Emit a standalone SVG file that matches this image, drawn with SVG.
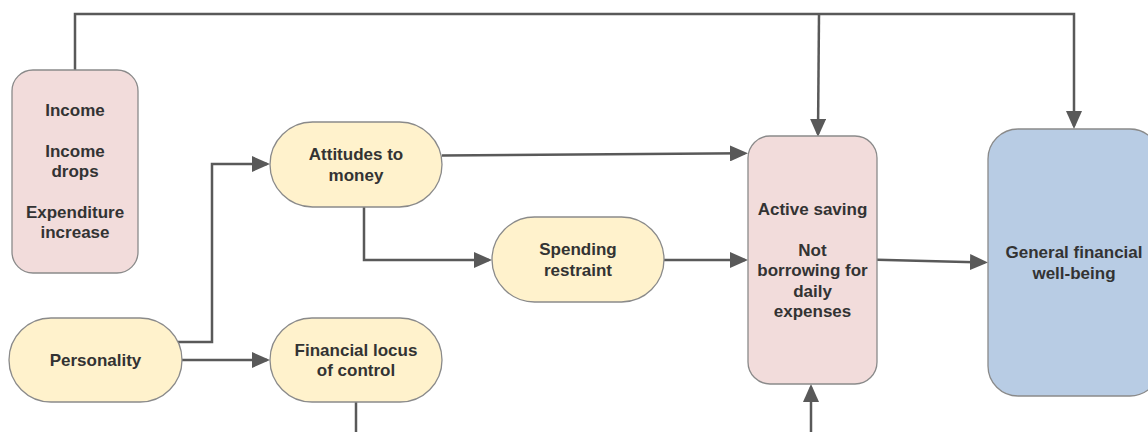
<svg xmlns="http://www.w3.org/2000/svg" width="1148" height="432" viewBox="0 0 1148 432">
<style>
.node{stroke:#8a8a8a;stroke-width:1.3}
.pink{fill:#f2dcdb}
.yellow{fill:#fff2cc}
.blue{fill:#b8cce4}
text{font-family:"Liberation Sans",Arial,sans-serif;font-weight:bold;font-size:17px;fill:#333333;text-anchor:middle}
.edge{fill:none;stroke:#595959;stroke-width:2.5}
</style>
<defs>
<marker id="arr" markerUnits="userSpaceOnUse" markerWidth="18" markerHeight="16" refX="15" refY="8" orient="auto" viewBox="0 0 18 16">
<path d="M0,0 L18,8 L0,16 z" fill="#595959"/>
</marker>
</defs>
<rect width="1148" height="432" fill="#ffffff"/>
<g id="connectors">
<path class="edge" d="M75,70 V14 H1074 V126" marker-end="url(#arr)"/>
<path class="edge" d="M819,14 L818,134" marker-end="url(#arr)"/>
<path class="edge" d="M178,342 H212 V164 H267" marker-end="url(#arr)"/>
<path class="edge" d="M182,360 H267" marker-end="url(#arr)"/>
<path class="edge" d="M442,155.5 L745,153.3" marker-end="url(#arr)"/>
<path class="edge" d="M364,207 V260 H489" marker-end="url(#arr)"/>
<path class="edge" d="M664,260 H745" marker-end="url(#arr)"/>
<path class="edge" d="M877,259.7 L985,262.4" marker-end="url(#arr)"/>
<path class="edge" d="M356,402 V432"/>
<path class="edge" d="M811,432 V387" marker-end="url(#arr)"/>
</g>
<g id="income">
<rect class="node pink" x="12" y="70" width="126" height="203" rx="21"/>
<text x="75" y="116">Income</text>
<text x="75" y="156.8">Income</text>
<text x="75" y="177.2">drops</text>
<text x="75" y="218">Expenditure</text>
<text x="75" y="238.4">increase</text>
</g>
<g id="attitudes">
<rect class="node yellow" x="270" y="122" width="172" height="85" rx="42.5"/>
<text x="356" y="160.3">Attitudes to</text>
<text x="356" y="180.7">money</text>
</g>
<g id="spending">
<rect class="node yellow" x="492" y="217" width="172" height="85" rx="42.5"/>
<text x="578" y="255.3">Spending</text>
<text x="578" y="275.7">restraint</text>
</g>
<g id="personality">
<rect class="node yellow" x="9" y="318" width="173" height="84" rx="42"/>
<text x="95.5" y="366">Personality</text>
</g>
<g id="locus">
<rect class="node yellow" x="270" y="318" width="172" height="84" rx="42"/>
<text x="356" y="355.8">Financial locus</text>
<text x="356" y="376.2">of control</text>
</g>
<g id="active">
<rect class="node pink" x="748" y="136" width="129" height="248" rx="22"/>
<text x="812.5" y="215">Active saving</text>
<text x="812.5" y="255.8">Not</text>
<text x="812.5" y="276.2">borrowing for</text>
<text x="812.5" y="296.6">daily</text>
<text x="812.5" y="317">expenses</text>
</g>
<g id="wellbeing">
<rect class="node blue" x="988" y="129" width="172" height="267" rx="30"/>
<text x="1074" y="258.3">General financial</text>
<text x="1074" y="278.7">well-being</text>
</g>
</svg>
